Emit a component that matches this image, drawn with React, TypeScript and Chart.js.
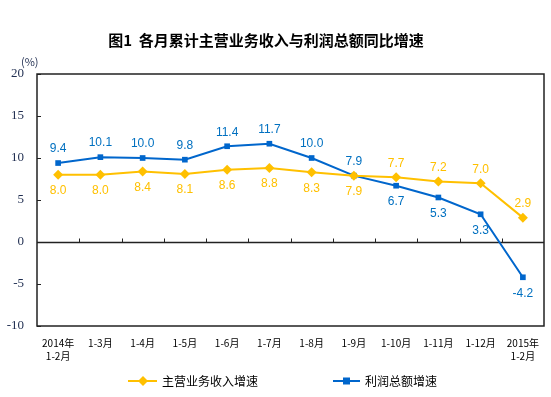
import React, { useEffect, useRef } from "react";
import { Chart, registerables } from "chart.js";

Chart.register(...registerables);

const categories: (string | string[])[] = [
  ["2014年", "1-2月"], "1-3月", "1-4月", "1-5月", "1-6月", "1-7月",
  "1-8月", "1-9月", "1-10月", "1-11月", "1-12月", ["2015年", "1-2月"],
];
const incomeGrowth = [8.0, 8.0, 8.4, 8.1, 8.6, 8.8, 8.3, 7.9, 7.7, 7.2, 7.0, 2.9];
const profitGrowth = [9.4, 10.1, 10.0, 9.8, 11.4, 11.7, 10.0, 7.9, 6.7, 5.3, 3.3, -4.2];
const incomeLabelAbove = [false, false, false, false, false, false, false, false, true, true, true, true];
const profitLabelAbove = [true, true, true, true, true, true, true, true, false, false, false, false];
const yMin = -10;
const yMax = 20;
const yStep = 5;

const TITLE = "图1  各月累计主营业务收入与利润总额同比增速";
const UNIT = "(%)";
const INCOME_NAME = "主营业务收入增速";
const PROFIT_NAME = "利润总额增速";

const YELLOW = "#FFC000";
const BLUE = "#0066CC";
const CJK = '"Noto Sans CJK SC", "Noto Sans", sans-serif';

const decorPlugin = {
  id: "decor",
  beforeDatasetsDraw(chart: any) {
    const { ctx, chartArea } = chart;
    const { left, right, top, bottom } = chartArea;
    const ys = chart.scales.y;
    ctx.save();
    ctx.strokeStyle = "#222";
    ctx.lineWidth = 1.5;
    ctx.strokeRect(left, top, right - left, bottom - top);
    // inward y ticks
    ctx.lineWidth = 1;
    for (let v = yMin; v <= yMax; v += yStep) {
      const y = Math.round(ys.getPixelForValue(v)) + 0.5;
      ctx.beginPath();
      ctx.moveTo(left, y);
      ctx.lineTo(left + 4, y);
      ctx.stroke();
    }
    // zero line with category ticks
    const y0 = Math.round(ys.getPixelForValue(0)) + 0.5;
    ctx.lineWidth = 1.5;
    ctx.beginPath();
    ctx.moveTo(left, y0);
    ctx.lineTo(right, y0);
    ctx.stroke();
    ctx.lineWidth = 1;
    const n = categories.length;
    for (let i = 1; i < n; i++) {
      const x = Math.round(left + (i * (right - left)) / n) + 0.5;
      ctx.beginPath();
      ctx.moveTo(x, y0 - 4);
      ctx.lineTo(x, y0);
      ctx.stroke();
    }
    ctx.restore();
  },
  afterDatasetsDraw(chart: any) {
    const { ctx } = chart;
    ctx.save();
    ctx.font = '12px "Liberation Sans", Arial, sans-serif';
    ctx.textAlign = "center";
    ctx.textBaseline = "middle";
    const draw = (dsIndex: number, values: number[], above: boolean[], color: string) => {
      const meta = chart.getDatasetMeta(dsIndex);
      ctx.fillStyle = color;
      meta.data.forEach((pt: any, i: number) => {
        const dy = above[i] ? -14 : 16;
        ctx.fillText(values[i].toFixed(1), pt.x, pt.y + dy);
      });
    };
    draw(0, incomeGrowth, incomeLabelAbove, YELLOW);
    draw(1, profitGrowth, profitLabelAbove, "#0070C0");
    ctx.restore();
  },
  afterDraw(chart: any) {
    const { ctx } = chart;
    ctx.save();
    // title
    ctx.fillStyle = "#000";
    ctx.font = `bold 15px ${CJK}`;
    ctx.textAlign = "center";
    ctx.textBaseline = "middle";
    ctx.fillText(TITLE, 266, 40);
    // unit
    ctx.font = `11px ${CJK}`;
    ctx.textAlign = "left";
    ctx.fillStyle = "#1F2D50";
    ctx.fillText(UNIT, 21, 62);
    // legend
    const ly = 381;
    ctx.font = `12px ${CJK}`;
    ctx.textAlign = "left";
    ctx.fillStyle = "#000";
    // income
    ctx.strokeStyle = YELLOW;
    ctx.lineWidth = 2;
    ctx.beginPath();
    ctx.moveTo(128, ly);
    ctx.lineTo(157, ly);
    ctx.stroke();
    ctx.fillStyle = YELLOW;
    ctx.beginPath();
    ctx.moveTo(143, ly - 5);
    ctx.lineTo(148, ly);
    ctx.lineTo(143, ly + 5);
    ctx.lineTo(138, ly);
    ctx.closePath();
    ctx.fill();
    ctx.fillStyle = "#000";
    ctx.fillText(INCOME_NAME, 162, ly);
    // profit
    ctx.strokeStyle = BLUE;
    ctx.beginPath();
    ctx.moveTo(333, ly);
    ctx.lineTo(360, ly);
    ctx.stroke();
    ctx.fillStyle = BLUE;
    ctx.fillRect(343, ly - 3.5, 7, 7);
    ctx.fillStyle = "#000";
    ctx.fillText(PROFIT_NAME, 365, ly);
    ctx.restore();
  },
};

export default function App() {
  const ref = useRef<HTMLCanvasElement | null>(null);
  useEffect(() => {
    if (!ref.current) return;
    const chart = new Chart(ref.current, {
      type: "line",
      data: {
        labels: categories as any,
        datasets: [
          {
            label: INCOME_NAME,
            data: incomeGrowth,
            borderColor: YELLOW,
            backgroundColor: YELLOW,
            borderWidth: 2,
            pointStyle: "rectRot",
            pointRadius: 5,
            pointBorderWidth: 0,
            tension: 0,
          },
          {
            label: PROFIT_NAME,
            data: profitGrowth,
            borderColor: BLUE,
            backgroundColor: BLUE,
            borderWidth: 2,
            pointStyle: "rect",
            pointRadius: 4,
            pointBorderWidth: 0,
            tension: 0,
          },
        ],
      },
      options: {
        responsive: false,
        animation: false,
        devicePixelRatio: 1,
        layout: { padding: { top: 74, right: 7, left: 0, bottom: 0 } },
        plugins: {
          legend: { display: false },
          title: { display: false },
          tooltip: { enabled: false },
        },
        scales: {
          x: {
            type: "category",
            offset: true,
            grid: { display: false, drawTicks: false },
            border: { display: false },
            ticks: {
              autoSkip: false,
              maxRotation: 0,
              minRotation: 0,
              padding: 10,
              color: "#000",
              font: { family: CJK, size: 10, lineHeight: 1.35 },
            },
            afterFit(scale: any) {
              scale.height = 71;
            },
          },
          y: {
            min: yMin,
            max: yMax,
            grid: { display: false, drawTicks: false },
            border: { display: false },
            ticks: {
              stepSize: yStep,
              padding: 13,
              color: "#1F2D50",
              font: { family: '"Liberation Serif", "Times New Roman", serif', size: 13 },
            },
            afterFit(scale: any) {
              scale.width = 37;
            },
          },
        },
      },
      plugins: [decorPlugin],
    });
    return () => chart.destroy();
  }, []);
  return (
    <div style={{ position: "absolute", left: 0, top: 0, width: 551, height: 397, background: "#fff" }}>
      <canvas ref={ref} width={551} height={397} style={{ display: "block", width: 551, height: 397 }} />
    </div>
  );
}
